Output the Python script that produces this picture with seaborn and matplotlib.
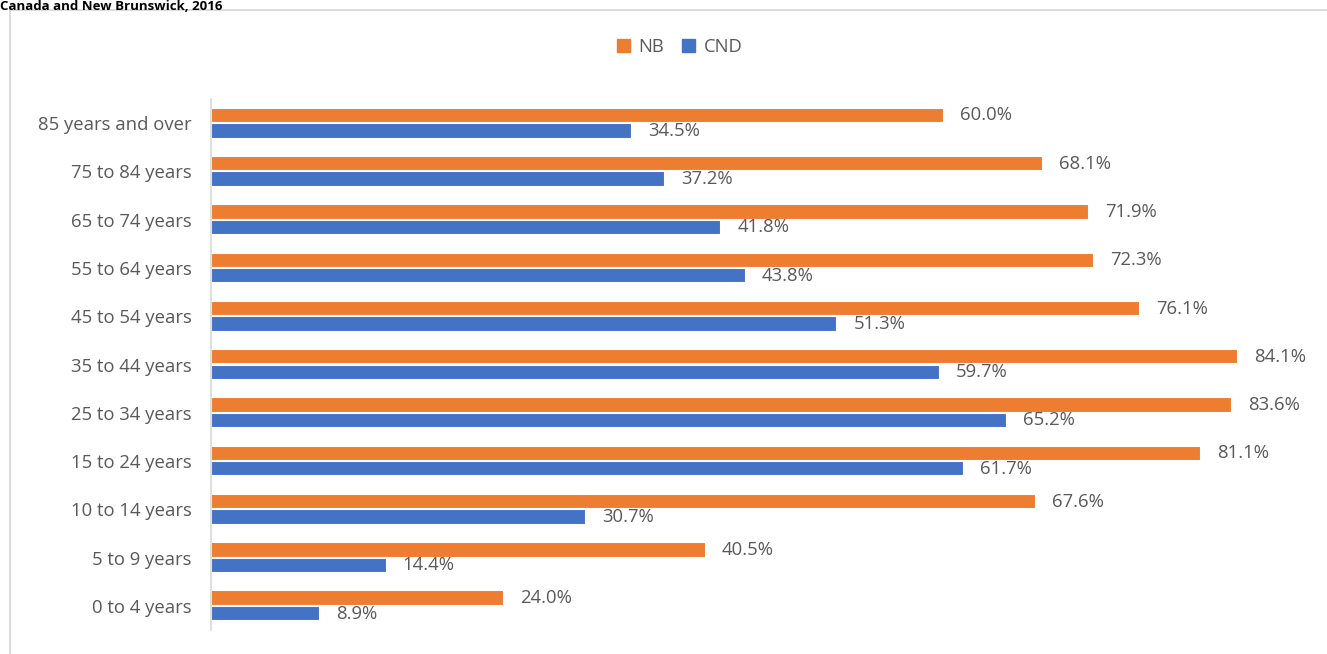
import matplotlib
matplotlib.use("Agg")
import matplotlib.pyplot as plt
from matplotlib.patches import Rectangle
import seaborn as sns
import pandas as pd

age_groups = ["85 years and over", "75 to 84 years", "65 to 74 years", "55 to 64 years",
              "45 to 54 years", "35 to 44 years", "25 to 34 years", "15 to 24 years",
              "10 to 14 years", "5 to 9 years", "0 to 4 years"]
nb_values = [60.0, 68.1, 71.9, 72.3, 76.1, 84.1, 83.6, 81.1, 67.6, 40.5, 24.0]
cnd_values = [34.5, 37.2, 41.8, 43.8, 51.3, 59.7, 65.2, 61.7, 30.7, 14.4, 8.9]
series = ["NB", "CND"]
colors = {"NB": "#ED7D31", "CND": "#4472C4"}
title = "Canada and New Brunswick, 2016"

df = pd.DataFrame({
    "age": age_groups * 2,
    "value": nb_values + cnd_values,
    "series": ["NB"] * len(age_groups) + ["CND"] * len(age_groups),
})

sns.set_theme(style="white")
plt.rcParams["font.family"] = ["Open Sans", "DejaVu Sans"]
text_color = "#595959"

fig = plt.figure(figsize=(13.27, 6.54), dpi=100)
W, H = 1327, 654
ax = fig.add_axes([211 / W, 1 - 630 / H, (1310 - 211) / W, (630 - 99) / H])

sns.barplot(data=df, y="age", x="value", hue="series", order=age_groups,
            hue_order=series, palette=colors, orient="h", width=0.64,
            saturation=1, ax=ax, legend=False, edgecolor="white", linewidth=1.5)

ax.set_xlim(0, 90)
ax.set_xlabel("")
ax.set_ylabel("")
ax.set_xticks([])
for s in ["top", "right", "bottom"]:
    ax.spines[s].set_visible(False)
ax.spines["left"].set_color("#D9D9D9")
ax.spines["left"].set_linewidth(1.2)
ax.tick_params(axis="y", length=0, pad=14, labelsize=13.3, labelcolor=text_color)

for container in ax.containers:
    ax.bar_label(container, labels=[f"{v:.1f}%" for v in container.datavalues],
                 padding=11.5, fontsize=13.3, color=text_color)

# legend
handles = [Rectangle((0, 0), 1, 1, color=colors[s]) for s in series]
fig.legend(handles, series, loc="center", bbox_to_anchor=(0.512, 1 - 47 / H), ncol=2,
           frameon=False, fontsize=13.3, handlelength=0.7, handleheight=0.7,
           handletextpad=0.45, columnspacing=1.0, labelcolor=text_color)

# chart area border
fig.patches.append(Rectangle((10 / W, -0.1), 1.2, 1 - 10 / H + 0.1,
                             transform=fig.transFigure, fill=False,
                             edgecolor="#D9D9D9", linewidth=1.3, zorder=0))

fig.text(0.0, 1 - 0.5 / H, title, fontsize=9.5, fontweight="bold", color="black",
         ha="left", va="top")

fig.savefig("out.png", dpi=100)
